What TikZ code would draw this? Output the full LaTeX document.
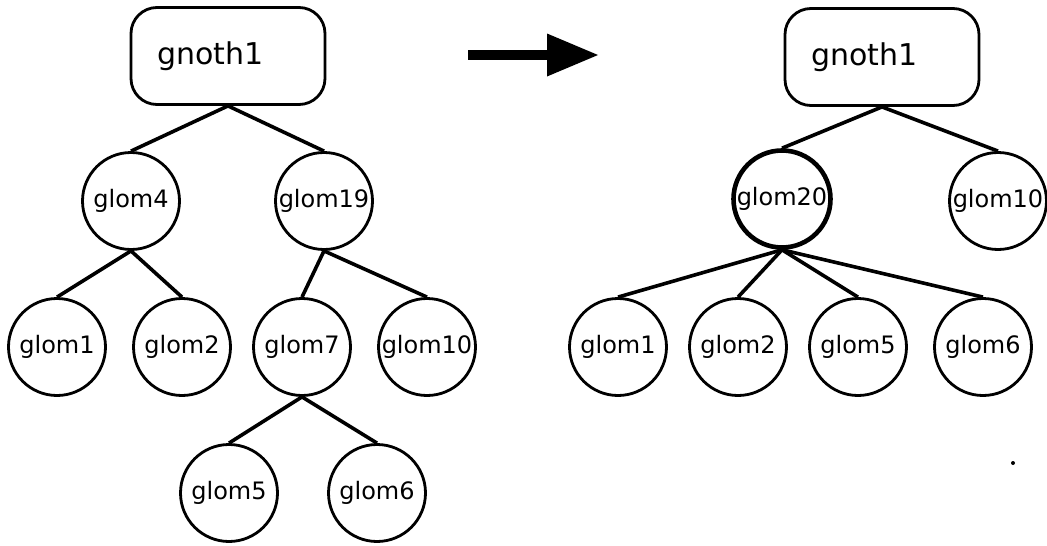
\documentclass[tikz,border=0pt]{standalone}
\usepackage{fontspec}
\setmainfont{DejaVu Sans}
\usetikzlibrary{arrows.meta}
\begin{document}
\begin{tikzpicture}[x=1pt,y=-1pt,
  glom/.style={circle,draw,line width=2.8pt,minimum size=97pt,inner sep=0pt,font=\fontsize{24}{28}\selectfont},
  boss/.style={glom,line width=4.6pt},
  rootbox/.style={draw,rounded corners=26pt,line width=2.8pt,minimum width=194pt,minimum height=97pt,
    inner xsep=26pt,text width=142pt,align=left,font=\fontsize{30}{36}\selectfont},
  edge/.style={line width=3.6pt}]
\useasboundingbox (0,0) rectangle (1047,546);
% left tree
\node[rootbox] (L) at (228,56) {gnoth1};
\node[glom] (L4) at (131,201) {glom4};
\node[glom] (L19) at (324,201) {glom19};
\node[glom] (L1) at (57,347) {glom1};
\node[glom] (L2) at (182,347) {glom2};
\node[glom] (L7) at (302,347) {glom7};
\node[glom] (L10) at (427,347) {glom10};
\node[glom] (L5) at (229,493) {glom5};
\node[glom] (L6) at (377,493) {glom6};
\draw[edge] (L.south) -- (L4.north);
\draw[edge] (L.south) -- (L19.north);
\draw[edge] (L4.south) -- (L1.north);
\draw[edge] (L4.south) -- (L2.north);
\draw[edge] (L19.south) -- (L7.north);
\draw[edge] (L19.south) -- (L10.north);
\draw[edge] (L7.south) -- (L5.north);
\draw[edge] (L7.south) -- (L6.north);
% arrow
\coordinate (A1) at (468,55);
\coordinate (A2) at (598,55);
\draw[line width=10pt,-{Triangle[length=51pt,width=43pt,line width=0pt]}] (A1) -- (A2);
% right tree
\node[rootbox] (R) at (882,57) {gnoth1};
\node[boss] (R20) at (782,199) {glom20};
\node[glom] (R10) at (998,201) {glom10};
\node[glom] (R1) at (618,347) {glom1};
\node[glom] (R2) at (738,347) {glom2};
\node[glom] (R5) at (858,347) {glom5};
\node[glom] (R6) at (983,347) {glom6};
\draw[edge] (R.south) -- (R20.north);
\draw[edge] (R.south) -- (R10.north);
\draw[edge] (R20.south) -- (R1.north);
\draw[edge] (R20.south) -- (R2.north);
\draw[edge] (R20.south) -- (R5.north);
\draw[edge] (R20.south) -- (R6.north);
\coordinate (D) at (1013,463);
\fill (D) circle (2pt);
\end{tikzpicture}
\end{document}
